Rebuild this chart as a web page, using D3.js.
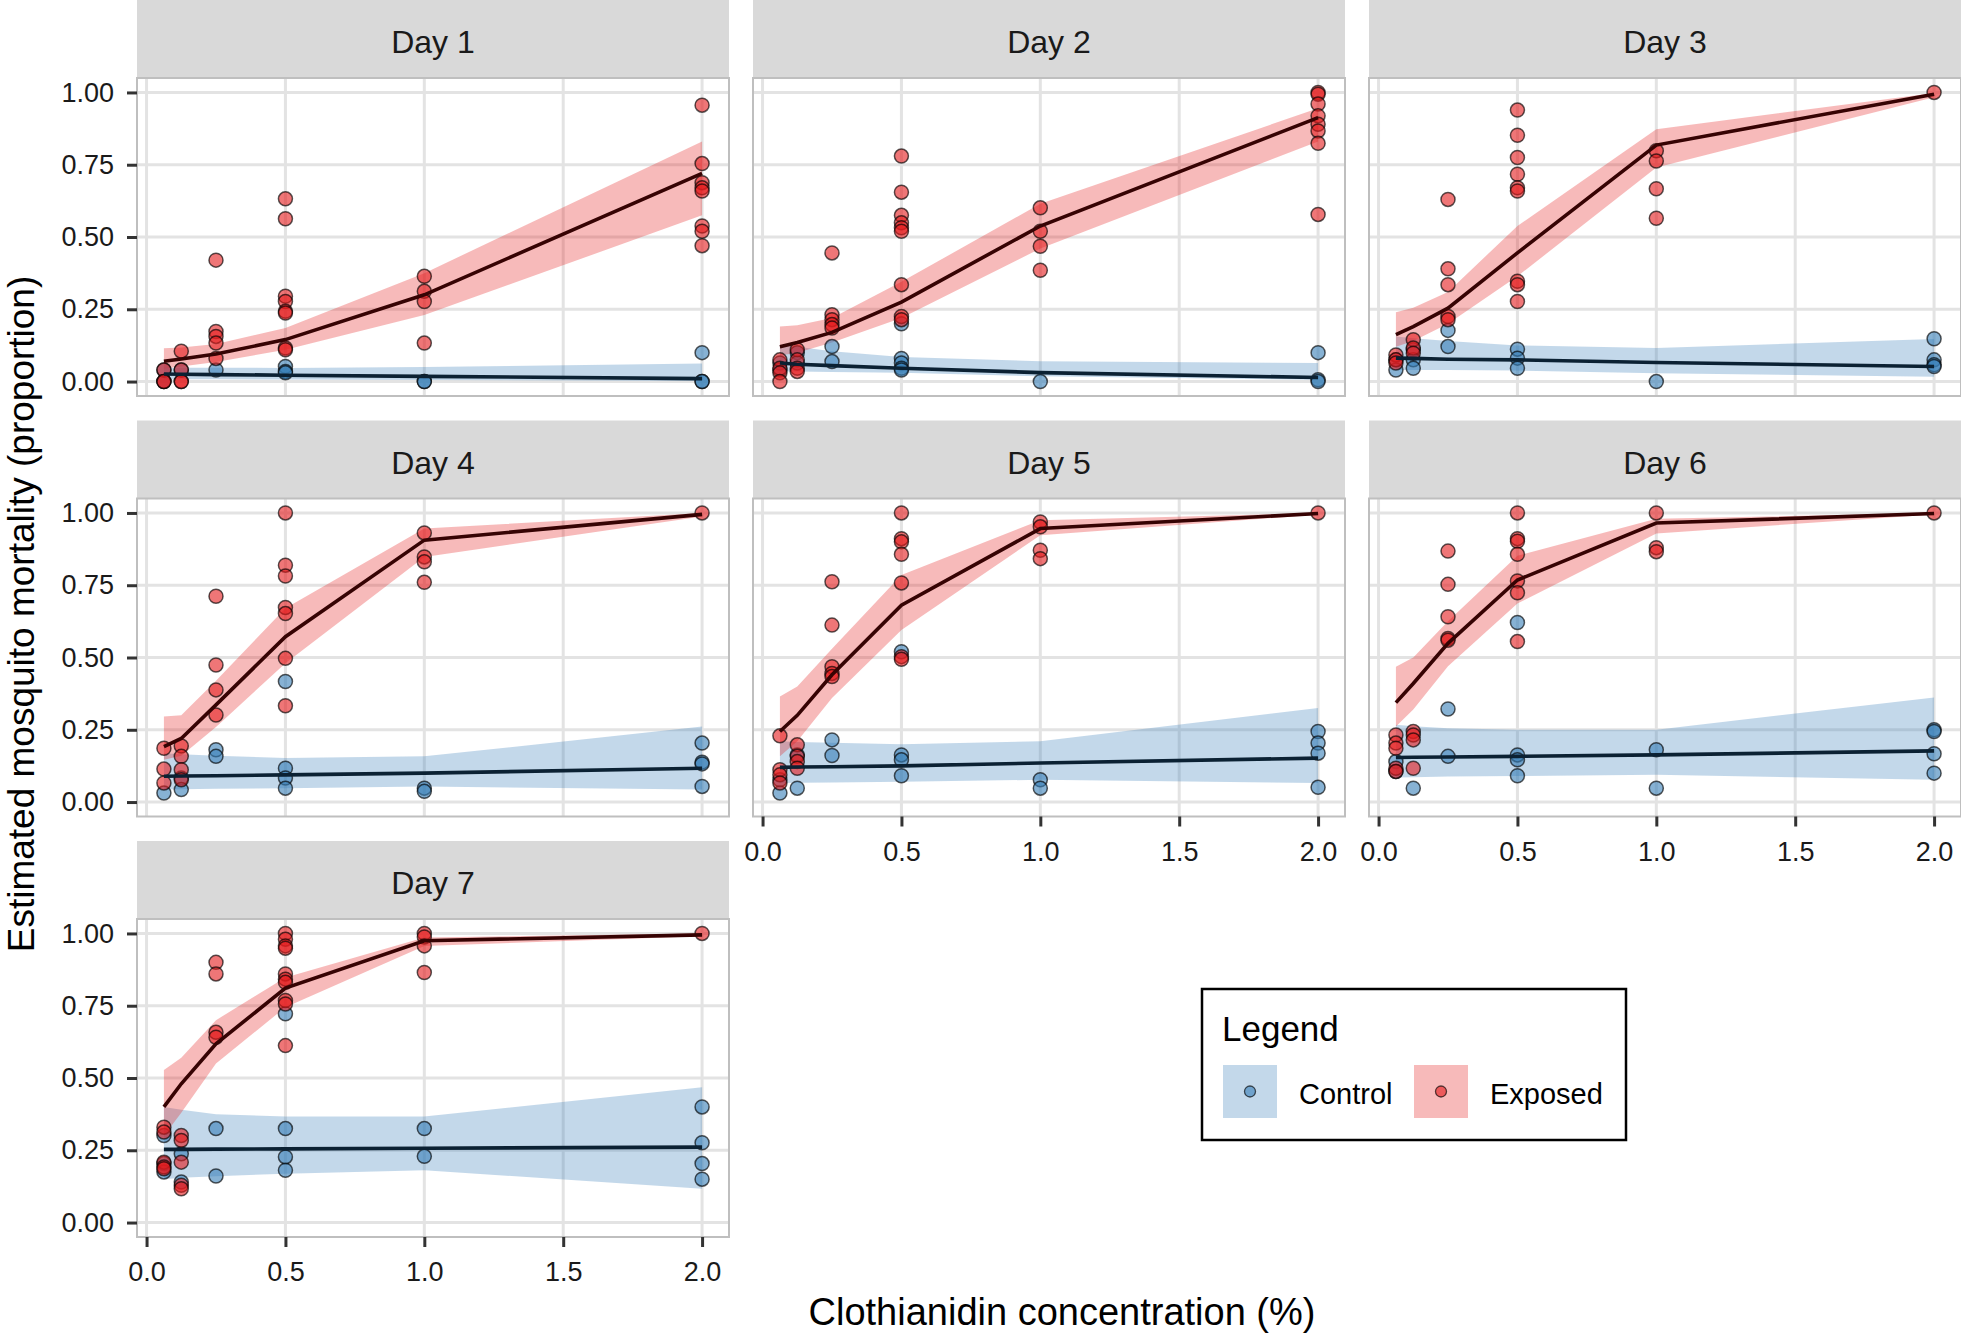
<!DOCTYPE html>
<html>
<head>
<meta charset="utf-8">
<script src="https://cdn.jsdelivr.net/npm/d3@7"></script>
<style>
  body { margin: 0; background: #fff; }
  text { font-family: "Liberation Sans", Arial, sans-serif; }
</style>
</head>
<body>
<div id="chart"></div>
<script>
// concentrations tested (%)
var concs = [0.0625, 0.125, 0.25, 0.5, 1, 2];
var dayLabels = ["Day 1", "Day 2", "Day 3", "Day 4", "Day 5", "Day 6", "Day 7"];
var xTicks = [0, 0.5, 1, 1.5, 2];
var yTicks = [0, 0.25, 0.5, 0.75, 1];
var groups = ["Control", "Exposed"];

// fitted mortality per day, one value per concentration
var exposedFit = [
  [0.07, 0.078, 0.095, 0.145, 0.30, 0.72],
  [0.12, 0.135, 0.17, 0.275, 0.538, 0.913],
  [0.162, 0.19, 0.254, 0.445, 0.818, 0.994],
  [0.192, 0.22, 0.336, 0.572, 0.906, 0.995],
  [0.244, 0.30, 0.44, 0.681, 0.946, 0.998],
  [0.344, 0.41, 0.549, 0.768, 0.965, 0.998],
  [0.40, 0.48, 0.618, 0.811, 0.975, 0.995]
];
var exposedLo = [
  [0.045, 0.052, 0.068, 0.11, 0.23, 0.575],
  [0.09, 0.10, 0.135, 0.22, 0.46, 0.83],
  [0.12, 0.14, 0.20, 0.364, 0.74, 0.983],
  [0.146, 0.16, 0.26, 0.48, 0.848, 0.988],
  [0.158, 0.21, 0.36, 0.595, 0.923, 0.994],
  [0.261, 0.32, 0.47, 0.687, 0.929, 0.995],
  [0.30, 0.38, 0.55, 0.745, 0.957, 0.99]
];
var exposedHi = [
  [0.115, 0.118, 0.13, 0.185, 0.375, 0.83],
  [0.19, 0.195, 0.22, 0.345, 0.615, 0.945],
  [0.24, 0.255, 0.31, 0.538, 0.873, 0.998],
  [0.296, 0.30, 0.42, 0.67, 0.946, 1.0],
  [0.365, 0.40, 0.53, 0.785, 0.975, 1.0],
  [0.468, 0.50, 0.625, 0.852, 0.98, 1.0],
  [0.528, 0.57, 0.70, 0.848, 0.986, 1.0]
];
var controlFit = [
  [0.026, 0.025, 0.024, 0.022, 0.018, 0.010],
  [0.064, 0.06, 0.055, 0.046, 0.031, 0.014],
  [0.081, 0.08, 0.077, 0.075, 0.066, 0.052],
  [0.089, 0.09, 0.091, 0.094, 0.10, 0.117],
  [0.12, 0.121, 0.122, 0.125, 0.135, 0.152],
  [0.154, 0.155, 0.156, 0.158, 0.163, 0.177],
  [0.253, 0.253, 0.254, 0.255, 0.257, 0.261]
];
var controlLo = [
  [0.008, 0.008, 0.008, 0.007, 0.005, 0.002],
  [0.035, 0.035, 0.033, 0.03, 0.018, 0.006],
  [0.04, 0.04, 0.04, 0.038, 0.029, 0.017],
  [0.043, 0.044, 0.046, 0.048, 0.054, 0.043],
  [0.066, 0.067, 0.068, 0.07, 0.077, 0.066],
  [0.085, 0.086, 0.088, 0.09, 0.094, 0.077],
  [0.15, 0.155, 0.16, 0.169, 0.181, 0.117]
];
var controlHi = [
  [0.048, 0.048, 0.048, 0.047, 0.05, 0.062],
  [0.127, 0.12, 0.105, 0.085, 0.07, 0.064],
  [0.156, 0.15, 0.14, 0.125, 0.116, 0.147],
  [0.169, 0.165, 0.16, 0.152, 0.158, 0.261],
  [0.21, 0.208, 0.205, 0.20, 0.21, 0.325],
  [0.267, 0.262, 0.255, 0.25, 0.25, 0.362],
  [0.40, 0.39, 0.375, 0.367, 0.367, 0.468]
];

// observed proportions, per day, per concentration
var exposedObs = [
  [[0.04, 0, 0], [0.105, 0.04, 0, 0], [0.42, 0.173, 0.156, 0.133, 0.08], [0.632, 0.563, 0.295, 0.277, 0.243, 0.237, 0.116, 0.11], [0.364, 0.312, 0.277, 0.133], [0.956, 0.754, 0.688, 0.67, 0.659, 0.538, 0.52, 0.47]],
  [[0.075, 0.046, 0.03, 0], [0.11, 0.075, 0.046, 0.035], [0.445, 0.231, 0.214, 0.197, 0.185], [0.78, 0.655, 0.575, 0.549, 0.532, 0.52, 0.335, 0.225, 0.214], [0.601, 0.52, 0.468, 0.385], [1.0, 0.994, 0.96, 0.919, 0.89, 0.867, 0.824, 0.578]],
  [[0.092, 0.075, 0.064], [0.145, 0.116, 0.098], [0.63, 0.39, 0.335, 0.225, 0.214], [0.939, 0.852, 0.775, 0.717, 0.67, 0.659, 0.347, 0.335, 0.277], [0.798, 0.763, 0.667, 0.565], [1.0]],
  [[0.186, 0.114, 0.066], [0.194, 0.158, 0.112, 0.077], [0.712, 0.474, 0.388, 0.301], [1.0, 0.819, 0.782, 0.673, 0.652, 0.497, 0.333], [0.931, 0.848, 0.831, 0.76], [1.0]],
  [[0.229, 0.112, 0.094, 0.066], [0.198, 0.158, 0.14, 0.117], [0.762, 0.612, 0.468, 0.445, 0.434], [1.0, 0.911, 0.9, 0.857, 0.758, 0.503, 0.494], [0.969, 0.952, 0.871, 0.842], [1.0]],
  [[0.232, 0.204, 0.186, 0.117, 0.106], [0.244, 0.232, 0.215, 0.117], [0.868, 0.753, 0.641, 0.566, 0.56], [1.0, 0.911, 0.902, 0.857, 0.765, 0.724, 0.555], [1.0, 0.88, 0.866], [1.0]],
  [[0.33, 0.313, 0.209, 0.192, 0.186], [0.301, 0.284, 0.209, 0.129, 0.117], [0.9, 0.86, 0.658, 0.641], [1.0, 0.98, 0.957, 0.949, 0.86, 0.842, 0.831, 0.768, 0.756, 0.612], [1.0, 0.988, 0.957, 0.865], [1.0]]
];
var controlObs = [
  [[0.04, 0], [0.04], [0.04], [0.052, 0.035, 0.03], [0, 0], [0.1, 0, 0]],
  [[0.064, 0.04], [0.1, 0.064], [0.121, 0.069], [0.2, 0.08, 0.064, 0.046, 0.04], [0], [0.1, 0.006, 0]],
  [[0.075, 0.04], [0.11, 0.075, 0.046], [0.177, 0.121], [0.112, 0.081, 0.046], [0], [0.148, 0.075, 0.058, 0.052]],
  [[0.031], [0.083, 0.043], [0.181, 0.158], [0.417, 0.117, 0.083, 0.048], [0.048, 0.037], [0.204, 0.138, 0.132, 0.054]],
  [[0.077, 0.031], [0.163, 0.048], [0.215, 0.161], [0.52, 0.163, 0.146, 0.091], [0.077, 0.048], [0.244, 0.204, 0.169, 0.051]],
  [[0.14, 0.106], [0.048], [0.322, 0.158], [0.621, 0.163, 0.146, 0.091], [0.181, 0.048], [0.25, 0.244, 0.167, 0.1]],
  [[0.301, 0.204, 0.175], [0.238, 0.14], [0.325, 0.161], [0.722, 0.325, 0.227, 0.181], [0.325, 0.229], [0.4, 0.276, 0.204, 0.15]]
];

var width = 1961, height = 1336;
var panelLeft = 137, panelW = 592, colStep = 616;
var rowTops = [0, 420.5, 841];
var stripH = 78, panelH = 318;

var colors = { Control: "#377eb8", Exposed: "#e41a1c" };
var lineColors = { Control: "#0b2133", Exposed: "#360303" };

var svg = d3.select("#chart").append("svg")
  .attr("width", width)
  .attr("height", height);

var x = d3.scaleLinear().domain([-0.0344, 2.0969]).range([0, panelW]);
var y = d3.scaleLinear().domain([-0.05, 1.05]).range([panelH, 0]);

var line = d3.line().x(d => x(d[0])).y(d => y(d[1]));
var area = d3.area().x(d => x(d[0])).y0(d => y(d[1])).y1(d => y(d[2]));

dayLabels.forEach(function(label, i) {
  var col = i % 3, row = Math.floor(i / 3);
  var gx = panelLeft + col * colStep;
  var top = rowTops[row];

  var g = svg.append("g").attr("transform", `translate(${gx}, ${top})`);

  // strip
  g.append("rect")
    .attr("width", panelW).attr("height", stripH)
    .attr("fill", "#d9d9d9");
  g.append("text")
    .attr("x", panelW / 2).attr("y", 53)
    .attr("text-anchor", "middle")
    .style("font-size", "32px")
    .attr("fill", "#1a1a1a")
    .text(label);

  var p = g.append("g").attr("transform", `translate(0, ${stripH})`);

  p.append("rect").attr("width", panelW).attr("height", panelH).attr("fill", "#fff");

  // grid
  p.selectAll(".gx").data(xTicks).enter().append("line")
    .attr("x1", d => x(d)).attr("x2", d => x(d))
    .attr("y1", 0).attr("y2", panelH)
    .attr("stroke", "#e3e3e3").attr("stroke-width", 3);
  p.selectAll(".gy").data(yTicks).enter().append("line")
    .attr("y1", d => y(d)).attr("y2", d => y(d))
    .attr("x1", 0).attr("x2", panelW)
    .attr("stroke", "#e3e3e3").attr("stroke-width", 3);

  // ribbons
  var bands = {
    Control: concs.map((c, k) => [c, controlLo[i][k], controlHi[i][k]]),
    Exposed: concs.map((c, k) => [c, exposedLo[i][k], exposedHi[i][k]])
  };
  groups.forEach(function(grp) {
    p.append("path")
      .datum(bands[grp])
      .attr("d", area)
      .attr("fill", colors[grp])
      .attr("fill-opacity", 0.3);
  });

  // points
  var pts = [];
  concs.forEach(function(c, k) {
    controlObs[i][k].forEach(v => pts.push({ grp: "Control", c: c, v: v }));
    exposedObs[i][k].forEach(v => pts.push({ grp: "Exposed", c: c, v: v }));
  });
  p.selectAll("circle").data(pts).enter().append("circle")
    .attr("cx", d => x(d.c))
    .attr("cy", d => y(d.v))
    .attr("r", 7)
    .attr("fill", d => colors[d.grp])
    .attr("fill-opacity", 0.6)
    .attr("stroke", "#000")
    .attr("stroke-opacity", 0.65)
    .attr("stroke-width", 1.5);

  // fitted lines
  var fits = {
    Control: concs.map((c, k) => [c, controlFit[i][k]]),
    Exposed: concs.map((c, k) => [c, exposedFit[i][k]])
  };
  groups.forEach(function(grp) {
    p.append("path")
      .datum(fits[grp])
      .attr("d", line)
      .attr("fill", "none")
      .attr("stroke", lineColors[grp])
      .attr("stroke-width", 3.6);
  });

  // panel border
  p.append("rect").attr("width", panelW).attr("height", panelH)
    .attr("fill", "none").attr("stroke", "#bfbfbf").attr("stroke-width", 2);

  // axes
  if (col === 0) {
    var ya = p.append("g")
      .call(d3.axisLeft(y).tickValues(yTicks).tickFormat(d3.format(".2f")).tickSize(10).tickPadding(13));
    styleAxis(ya);
  }
  if (i >= 4) {
    var xa = p.append("g")
      .attr("transform", `translate(0, ${panelH})`)
      .call(d3.axisBottom(x).tickValues(xTicks).tickFormat(d3.format(".1f")).tickSize(10).tickPadding(15));
    styleAxis(xa);
  }
});

function styleAxis(a) {
  a.select(".domain").remove();
  a.selectAll(".tick line").attr("stroke", "#333").attr("stroke-width", 3);
  a.selectAll(".tick text")
    .attr("fill", "#1a1a1a")
    .style("font-size", "27px")
    .style("font-family", "'Liberation Sans', Arial, sans-serif");
}

// axis titles
svg.append("text")
  .attr("x", 1062).attr("y", 1325)
  .attr("text-anchor", "middle")
  .style("font-size", "38px")
  .attr("fill", "#000")
  .text("Clothianidin concentration (%)");

svg.append("text")
  .attr("transform", "translate(34, 614) rotate(-90)")
  .attr("text-anchor", "middle")
  .style("font-size", "37px")
  .attr("fill", "#000")
  .text("Estimated mosquito mortality (proportion)");

// legend
var lg = svg.append("g").attr("transform", "translate(1202, 989)");
lg.append("rect")
  .attr("width", 424).attr("height", 151)
  .attr("fill", "#fff").attr("stroke", "#000").attr("stroke-width", 2.5);
lg.append("text")
  .attr("x", 20).attr("y", 52)
  .style("font-size", "35px")
  .text("Legend");

var keyX = [21, 212];
groups.forEach(function(grp, k) {
  var kg = lg.append("g").attr("transform", `translate(${keyX[k]}, 76)`);
  kg.append("rect")
    .attr("width", 54).attr("height", 53)
    .attr("fill", colors[grp]).attr("fill-opacity", 0.3);
  kg.append("circle")
    .attr("cx", 27).attr("cy", 26.5).attr("r", 5.5)
    .attr("fill", colors[grp]).attr("fill-opacity", 0.6)
    .attr("stroke", "#000").attr("stroke-opacity", 0.65).attr("stroke-width", 1.3);
  kg.append("text")
    .attr("x", 76).attr("y", 39)
    .style("font-size", "29px")
    .text(grp);
});
</script>
</body>
</html>
